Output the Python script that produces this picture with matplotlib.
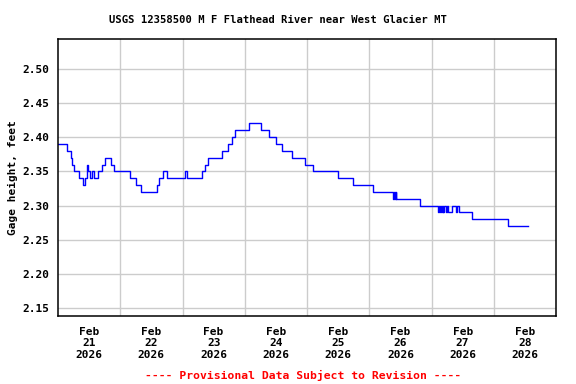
import matplotlib
matplotlib.use("Agg")
import matplotlib.pyplot as plt
import matplotlib.dates as mdates
import pandas as pd

# gage height readings, hours after Feb 21 2026 00:00 (step changes)
step_hours = [0.0, 3.3, 4.9, 5.4, 6.2, 8.2, 9.8, 10.5, 11.0, 11.6, 12.3, 13.2, 14.0,
              15.5, 17.1, 18.1, 20.3, 21.6, 27.8, 30.1, 31.9, 38.3, 39.1, 40.6,
              42.2, 49.0, 49.7, 55.4, 56.7, 58.0, 63.1, 65.7, 67.0, 68.2, 73.8,
              78.3, 81.4, 84.1, 86.3, 90.1, 95.2, 98.4, 108.1, 113.6, 121.3,
              129.3, 129.7, 129.9, 130.3, 130.5, 131.2, 139.6,
              146.6, 146.9, 147.2, 147.6, 147.9, 148.3, 148.6, 149.0, 149.4, 149.8,
              150.5, 151.8, 153.5, 154.0, 154.7, 155.4, 159.5, 173.6, 181.3]
gage_ft = [2.39, 2.38, 2.37, 2.36, 2.35, 2.34, 2.33, 2.34, 2.36, 2.35, 2.34, 2.35, 2.34,
           2.35, 2.36, 2.37, 2.36, 2.35, 2.34, 2.33, 2.32, 2.33, 2.34, 2.35,
           2.34, 2.35, 2.34, 2.35, 2.36, 2.37, 2.38, 2.39, 2.40, 2.41, 2.42,
           2.41, 2.40, 2.39, 2.38, 2.37, 2.36, 2.35, 2.34, 2.33, 2.32,
           2.31, 2.32, 2.31, 2.32, 2.31, 2.31, 2.30,
           2.29, 2.30, 2.29, 2.30, 2.29, 2.30, 2.29, 2.30, 2.29, 2.30,
           2.29, 2.30, 2.29, 2.30, 2.29, 2.29, 2.28, 2.27, 2.27]

start = pd.Timestamp("2026-02-21")
times = start + pd.to_timedelta(step_hours, unit="h")

y_ticks = [2.15, 2.20, 2.25, 2.30, 2.35, 2.40, 2.45, 2.50]
day_labels = ["Feb\n21\n2026", "Feb\n22\n2026", "Feb\n23\n2026", "Feb\n24\n2026",
              "Feb\n25\n2026", "Feb\n26\n2026", "Feb\n27\n2026", "Feb\n28\n2026"]

plt.rcParams["font.family"] = "DejaVu Sans Mono"
plt.rcParams["font.weight"] = "bold"

fig = plt.figure(figsize=(5.76, 3.84), dpi=100)
ax = fig.add_axes([58/576, 1-316/384, 498/576, 277/384])

ax.plot(times, gage_ft, color="#0000ff", linewidth=1.0, drawstyle="steps-post")

ax.set_xlim(start, start + pd.Timedelta(days=8))
ax.set_ylim(2.1388, 2.5434)

noons = [start + pd.Timedelta(hours=12 + 24*i) for i in range(8)]
mids = [start + pd.Timedelta(days=i) for i in range(1, 8)]
ax.set_xticks(mdates.date2num(noons))
ax.set_xticklabels(day_labels, fontsize=8, fontweight="bold", linespacing=1.15)
ax.set_xticks(mdates.date2num(mids), minor=True)
ax.set_yticks(y_ticks)
ax.set_yticklabels([f"{v:.2f}" for v in y_ticks], fontsize=8, fontweight="bold")

ax.grid(True, which="minor", axis="x", color="#cccccc", linewidth=1)
ax.grid(True, which="major", axis="y", color="#cccccc", linewidth=1)
ax.set_axisbelow(True)
ax.tick_params(axis="both", which="both", length=0)
ax.tick_params(axis="x", pad=8)
ax.tick_params(axis="y", pad=6)
for s in ax.spines.values():
    s.set_linewidth(1.1)
    s.set_color("black")

ax.set_ylabel("Gage height, feet", fontsize=8, fontweight="bold", labelpad=3)

fig.text(0.483, 1-20/384, "USGS 12358500 M F Flathead River near West Glacier MT",
         ha="center", va="center", fontsize=7.6, fontweight="bold")
fig.text(0.526, 1-375/384, "---- Provisional Data Subject to Revision ----",
         ha="center", va="center", fontsize=8.2, fontweight="bold", color="red")

fig.savefig("out.png", dpi=100)
